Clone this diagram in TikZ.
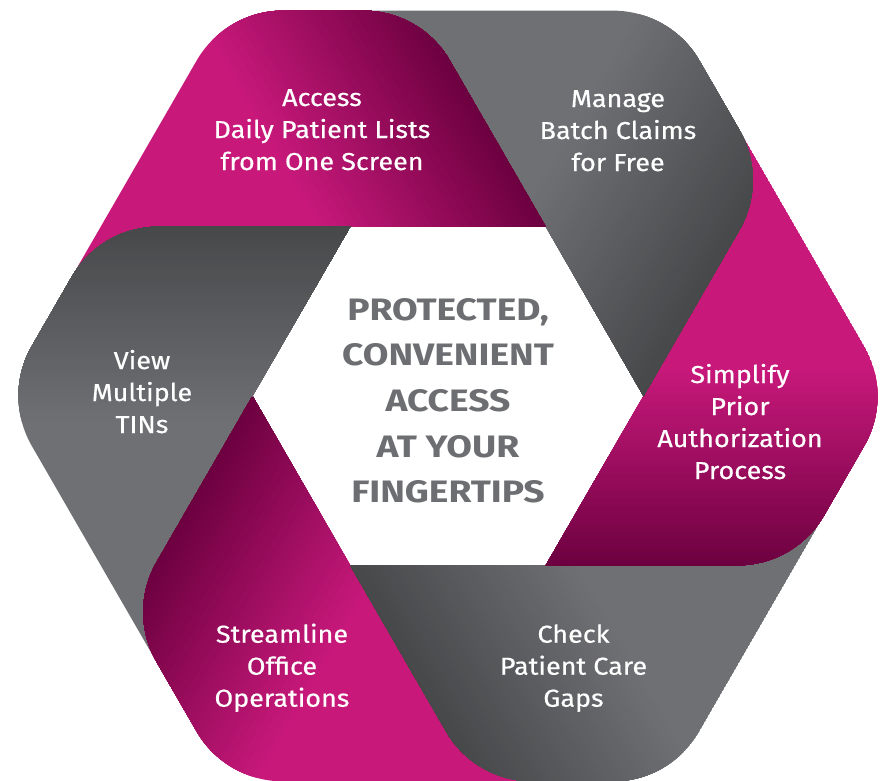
\documentclass[tikz,border=0pt]{standalone}
\usepackage{fontspec}
\setmainfont{Fira Sans}
\newfontfamily\blockfont[FakeStretch=1.1,FakeBold=0.5]{Fira Sans}
\newfontfamily\hubfont[FakeStretch=1.2]{Fira Sans}
\definecolor{magL}{RGB}{200,25,123}
\definecolor{magD}{RGB}{106,0,62}
\definecolor{gryL}{RGB}{111,112,116}
\definecolor{gryD}{RGB}{70,71,73}
\definecolor{midtext}{RGB}{109,110,113}
% One shutter blade (the top one); the others are rotations of it.
\newcommand\bladepath{(-387.27,100) -- (-251.37,335.38)
  .. controls (-233.5,366.32) and (-200.49,385.38) .. (-164.77,385.38)
  -- (-84.74,385.38) .. controls (-49.01,385.38) and (-16.0,366.32) .. (1.87,335.38)
  -- (97.75,169.31) -- (-97.75,169.31) -- cycle}
% #1 rotation, #2 light colour, #3 dark colour (towards the leading edge)
\newcommand\drawblade[3]{%
  \begin{scope}[rotate=#1]
    \begin{scope}
      \clip \bladepath;
      \fill[#2] \bladepath;
      \begin{scope}[rotate=30]
        \foreach \k in {1,...,50}{%
          \pgfmathtruncatemacro\pc{2*\k}%
          \pgfmathsetmacro\sa{-30+202*\k/50}%
          \fill[#3!\pc!#2] (\sa,-600) rectangle (450,600);
        }
      \end{scope}
    \end{scope}
  \end{scope}}
\tikzset{
  blocktext/.style={font=\blockfont\fontsize{24.5}{32}\selectfont, text=white, inner sep=0pt, anchor=base},
  hubtext/.style={font=\hubfont\bfseries\fontsize{31}{45.7}\selectfont, text=midtext, inner sep=0pt, anchor=base}
}
\begin{document}
\begin{tikzpicture}[x=1pt,y=1pt]
  \useasboundingbox (-448,-384) rectangle (436,396);
  \fill[white] (-448,-384) rectangle (436,396);
  % blades, each lying over the next one clockwise
  \drawblade{60}{gryL}{gryD}
  \drawblade{120}{magL}{magD}
  \drawblade{180}{gryL}{gryD}
  \drawblade{-120}{magL}{magD}
  \drawblade{-60}{gryL}{gryD}
  \drawblade{0}{magL}{magD}
  % the left blade again, over the top blade
  \begin{scope}
    \clip (-460,0) rectangle (0,400);
    \drawblade{60}{gryL}{gryD}
  \end{scope}
  % labels
  \node[blocktext] (access) at (-126,290) {\begin{tabular}[t]{@{}c@{}}Access\\Daily Patient Lists\\from One Screen\end{tabular}};
  \node[blocktext] (batch) at (170,289) {\begin{tabular}[t]{@{}c@{}}Manage\\Batch Claims\\for Free\end{tabular}};
  \node[blocktext] (prior) at (292,13) {\begin{tabular}[t]{@{}c@{}}Simplify\\Prior\\Authorization\\Process\end{tabular}};
  \node[blocktext] (gaps) at (125.5,-246.7) {\begin{tabular}[t]{@{}c@{}}Check\\Patient Care\\Gaps\end{tabular}};
  \node[blocktext] (office) at (-166,-246.7) {\begin{tabular}[t]{@{}c@{}}Streamline\\Office\\Operations\end{tabular}};
  \node[blocktext] (tins) at (-306,27) {\begin{tabular}[t]{@{}c@{}}View\\Multiple\\TINs\end{tabular}};
  \node[hubtext] (hub) at (0,76) {\begin{tabular}[t]{@{}c@{}}PROTECTED,\\CONVENIENT\\ACCESS\\AT YOUR\\FINGERTIPS\end{tabular}};
\end{tikzpicture}
\end{document}
